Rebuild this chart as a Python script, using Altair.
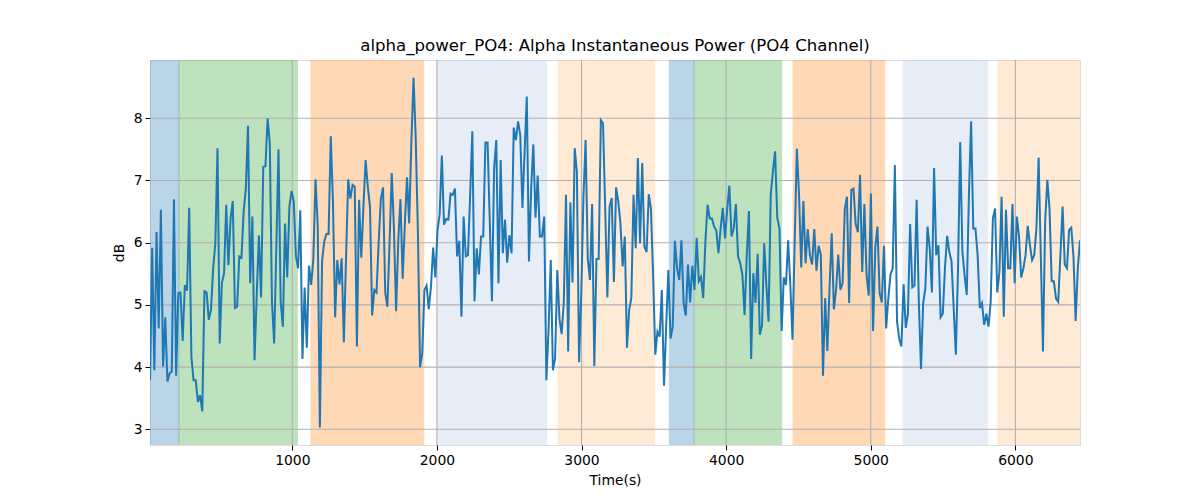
import altair as alt
import numpy as np
import pandas as pd

T_START = 16
T_END = 6447

# alpha power (dB), read left to right off the picture
alpha_power = [
    3.79, 5.92, 3.95, 6.17, 4.62, 6.53, 4.01, 4.80, 3.77, 3.90, 3.93, 6.70, 3.86, 5.19, 5.20, 4.42,
    5.32, 5.23, 6.56, 4.17, 3.79, 3.79, 3.44, 3.55, 3.29, 5.22, 5.20, 4.76, 4.92, 5.59, 5.99, 7.52,
    4.38, 5.35, 5.51, 6.61, 5.64, 6.39, 6.67, 4.95, 4.97, 5.78, 5.76, 6.50, 6.87, 7.88,
    5.35, 6.42, 4.11, 5.16, 6.12, 5.12, 7.22, 7.23, 8.00, 7.60, 5.05, 4.38, 5.91, 7.50, 5.05, 4.65,
    6.31, 5.44, 6.58, 6.83, 6.66, 5.78, 5.59, 6.52, 4.13, 5.28, 4.31, 5.63, 5.32, 5.75, 7.02, 6.28,
    3.03, 5.70, 6.02, 6.14, 6.14, 7.71, 6.66, 4.80, 5.72, 5.33, 5.75, 4.40, 5.74, 7.02, 6.71,
    6.93, 6.90, 4.33, 6.69, 5.76, 6.58, 7.33, 6.90, 6.58, 4.83, 5.24, 5.20, 6.01, 6.71, 6.89, 5.20,
    4.97, 6.01, 7.12, 6.23, 4.90, 6.04, 6.70, 5.42, 6.29, 7.05, 6.31, 7.62, 8.65, 7.68, 6.18, 4.00,
    4.22, 5.24, 5.31, 4.93, 5.29, 5.92, 5.44, 6.20, 6.46, 7.40, 6.29, 6.38, 6.37, 6.79, 6.77,
    6.87, 5.78, 6.03, 4.81, 6.42, 5.78, 5.80, 6.77, 7.79, 5.06, 5.91, 5.49, 6.10, 6.10, 7.61, 7.61,
    6.34, 5.06, 7.20, 7.65, 5.35, 7.33, 5.83, 6.37, 5.68, 6.12, 5.83, 7.85, 7.65, 7.95, 7.73, 6.56,
    7.46, 8.35, 5.70, 6.87, 7.58, 6.40, 7.08, 6.10, 6.10, 6.42, 3.79, 4.60, 5.72, 3.95, 4.14, 5.56,
    4.78, 4.53, 5.05, 6.77, 4.25, 6.65, 5.36, 7.52, 7.14, 4.08, 5.16, 6.71, 7.65, 5.74, 5.40, 6.62,
    4.02, 5.74, 5.74, 7.97, 7.92, 6.55, 5.12, 6.58, 6.72, 5.37, 6.89, 6.66, 6.31, 5.62, 6.10, 4.31,
    4.92, 5.11, 6.77, 5.91, 7.36, 5.99, 7.28, 5.94, 5.85, 6.78, 6.54, 5.48, 4.20, 4.57, 4.49,
    5.24, 3.70, 4.65, 5.56, 4.46, 4.65, 6.03, 5.59, 5.40, 6.04, 5.03, 4.83, 5.65, 5.04, 5.63, 5.24,
    6.08, 5.38, 5.45, 5.11, 6.02, 6.61, 6.39, 6.39, 6.26, 6.20, 5.83, 6.23, 6.56, 6.07, 6.53, 6.92,
    6.10, 6.23, 6.62, 5.78, 5.67, 5.48, 4.84, 5.80, 6.51, 4.13, 5.51, 5.03, 5.82, 4.52, 4.67,
    5.99, 5.32, 4.73, 6.77, 7.14, 7.47, 6.40, 6.23, 4.58, 5.44, 5.32, 6.04, 5.32, 4.44, 6.02, 7.51,
    6.77, 5.60, 6.67, 5.67, 6.22, 5.80, 5.65, 6.22, 5.55, 5.95, 5.81, 3.86, 5.11, 4.26, 5.27, 6.15,
    4.93, 5.24, 5.81, 5.24, 5.35, 6.54, 6.74, 5.03, 6.85, 6.87, 6.30, 6.17, 7.09, 5.53, 6.62,
    5.48, 5.15, 6.79, 4.58, 5.92, 6.26, 5.19, 5.04, 5.95, 4.62, 5.11, 5.49, 5.59, 7.25, 4.73, 4.46,
    4.33, 5.33, 4.63, 4.86, 6.30, 5.28, 5.31, 6.69, 5.05, 3.97, 5.03, 5.27, 6.26, 5.91, 5.20, 7.20,
    5.80, 5.96, 4.80, 4.86, 5.59, 6.11, 5.85, 5.70, 4.95, 4.20, 5.59, 7.62, 5.86, 5.48, 5.16,
    6.77, 7.95, 6.23, 6.23, 5.80, 4.95, 5.03, 4.68, 4.86, 4.65, 5.05, 6.39, 6.55, 5.20, 5.53, 6.74,
    4.81, 6.53, 5.59, 5.59, 6.62, 5.35, 6.42, 6.10, 5.44, 5.59, 5.80, 6.27, 5.97, 5.72, 5.80, 6.23,
    7.37, 5.80, 4.25, 6.34, 7.01, 6.55, 5.38, 5.38, 5.10, 5.05, 5.80, 6.58, 5.65, 5.59, 6.20, 6.24,
    5.78, 4.74, 5.59, 6.04,
]

# shaded phases
span_start = [0, 216, 1129, 2003, 2837, 3607, 3778, 4463, 5224, 5880]
span_end = [216, 1035, 1909, 2759, 3506, 3778, 4384, 5097, 5809, 6447]
span_color = ["#1f77b4", "#2ca02c", "#ff7f0e", "#aec7e8", "#ffbb78",
              "#1f77b4", "#2ca02c", "#ff7f0e", "#aec7e8", "#ffbb78"]

x_ticks = [1000, 2000, 3000, 4000, 5000, 6000]
y_ticks = [3, 4, 5, 6, 7, 8]
Y_MIN, Y_MAX = 2.748, 8.937

line_df = pd.DataFrame({
    "time": np.linspace(T_START, T_END, len(alpha_power)),
    "power": alpha_power,
})
span_df = pd.DataFrame({"start": span_start, "end": span_end, "color": span_color})
xgrid_df = pd.DataFrame({"v": x_ticks})
ygrid_df = pd.DataFrame({"v": y_ticks})

FONT = "DejaVu Sans"
x_scale = alt.Scale(domain=[T_START, T_END], nice=False, zero=False)
y_scale = alt.Scale(domain=[Y_MIN, Y_MAX], nice=False, zero=False)

x_axis = alt.Axis(values=x_ticks, format="d", title="Time(s)", grid=False, domain=False,
                  tickColor="black", tickSize=5, tickWidth=1, labelFont=FONT,
                  labelFontSize=13.9, labelColor="black", labelPadding=3,
                  titleFont=FONT, titleFontSize=13.9, titleFontWeight="normal",
                  titleColor="black", titlePadding=7, labelFlush=False)
y_axis = alt.Axis(values=y_ticks, format="d", title="dB", grid=False, domain=False,
                  tickColor="black", tickSize=5, tickWidth=1, labelFont=FONT,
                  labelFontSize=13.9, labelColor="black", labelPadding=3,
                  titleFont=FONT, titleFontSize=13.9, titleFontWeight="normal",
                  titleColor="black", titlePadding=7, labelFlush=False)

spans = alt.Chart(span_df).mark_rect(opacity=0.3, strokeWidth=1, clip=True).encode(
    x=alt.X("start:Q", scale=x_scale, axis=x_axis),
    x2="end:Q",
    y=alt.value(0),
    y2=alt.value(385),
    fill=alt.Color("color:N", scale=None),
    stroke=alt.Color("color:N", scale=None),
)

xgrid = alt.Chart(xgrid_df).mark_rule(color="#b0b0b0", strokeWidth=1.1).encode(
    x=alt.X("v:Q", scale=x_scale, axis=x_axis),
)
ygrid = alt.Chart(ygrid_df).mark_rule(color="#b0b0b0", strokeWidth=1.1).encode(
    y=alt.Y("v:Q", scale=y_scale, axis=y_axis),
)

line = alt.Chart(line_df).mark_line(color="#1f77b4", strokeWidth=2, clip=True).encode(
    x=alt.X("time:Q", scale=x_scale, axis=x_axis),
    y=alt.Y("power:Q", scale=y_scale, axis=y_axis),
)

chart = alt.layer(spans, xgrid, ygrid, line).properties(
    width=930,
    height=385,
    autosize=alt.AutoSizeParams(type="none"),
    padding={"left": 142, "top": 52, "right": 112, "bottom": 47},
    title=alt.TitleParams(
        "alpha_power_PO4: Alpha Instantaneous Power (PO4 Channel)",
        font=FONT, fontSize=16.6, fontWeight="normal", color="black",
        anchor="middle", offset=5,
    ),
).configure_view(stroke="black", strokeWidth=1.1).configure(background="white")

chart.save("out.html", embed_options={"renderer": "svg", "actions": False})
